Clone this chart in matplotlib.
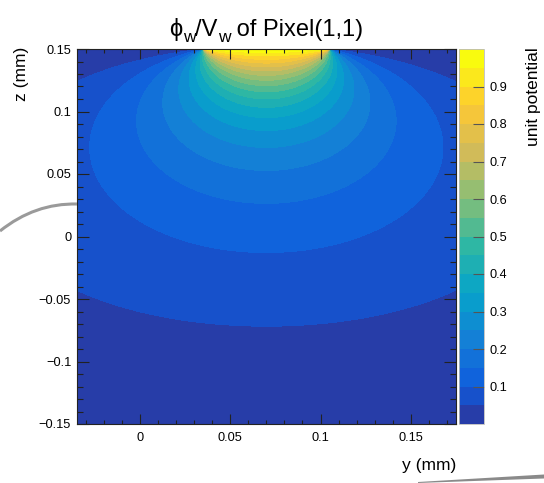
import numpy as np
import matplotlib
matplotlib.use("Agg")
import matplotlib.pyplot as plt
from matplotlib.colors import ListedColormap, BoundaryNorm
from matplotlib.ticker import FixedLocator, FixedFormatter, MultipleLocator
from matplotlib.patches import PathPatch, Polygon
from matplotlib.path import Path

plt.rcParams['font.family'] = ['Liberation Sans', 'DejaVu Sans']

# sensor geometry, mm
pixel_lo = 0.035
pixel_hi = 0.105
z_top = 0.15
z_bottom = -0.15
y_lim = [-0.035, 0.175]

# 20 contour bands between 0 and 1
levels = np.linspace(0, 1, 21)

x_ticks = [0, 0.05, 0.1, 0.15]
x_labels = ["0", "0.05", "0.1", "0.15"]
z_ticks = [-0.15, -0.1, -0.05, 0, 0.05, 0.1, 0.15]
z_labels = ["\u22120.15", "\u22120.1", "\u22120.05", "0", "0.05", "0.1", "0.15"]
cb_ticks = [0.1, 0.2, 0.3, 0.4, 0.5, 0.6, 0.7, 0.8, 0.9]
cb_labels = ["0.1", "0.2", "0.3", "0.4", "0.5", "0.6", "0.7", "0.8", "0.9"]

# ROOT kBird palette
bird_stops = [0.0, 0.125, 0.25, 0.375, 0.5, 0.625, 0.75, 0.875, 1.0]
bird_r = [0.2082, 0.0592, 0.0780, 0.0232, 0.1802, 0.5301, 0.8186, 0.9956, 0.9764]
bird_g = [0.1664, 0.3599, 0.5041, 0.6419, 0.7178, 0.7492, 0.7328, 0.7862, 0.9832]
bird_b = [0.5293, 0.8684, 0.8385, 0.7914, 0.6425, 0.4662, 0.3499, 0.1968, 0.0539]

pal = np.linspace(0, 1, 255)
pal_rgb = np.column_stack([np.interp(pal, bird_stops, bird_r),
                           np.interp(pal, bird_stops, bird_g),
                           np.interp(pal, bird_stops, bird_b)])
nband = len(levels) - 1
band_colors = [pal_rgb[int((i + 0.99) * 255 / nband)] for i in range(nband)]
cmap = ListedColormap(band_colors)
norm = BoundaryNorm(levels, cmap.N)

# weighting potential of a strip between two grounded planes
thick = z_top - z_bottom
yy, zz = np.meshgrid(np.linspace(y_lim[0], y_lim[1], 700),
                     np.linspace(z_bottom, z_top - 1e-5, 700))
t = np.tan(np.pi * (zz - z_bottom) / (2 * thick))
phi = (np.arctan(t * np.tanh(np.pi * (yy - pixel_lo) / (2 * thick)))
       - np.arctan(t * np.tanh(np.pi * (yy - pixel_hi) / (2 * thick)))) / np.pi
phi = np.clip(phi, 0, 0.9999)

fig = plt.figure(figsize=(5.44, 4.83), dpi=100)
W, H = 544.0, 483.0
ax = fig.add_axes([76.7 / W, 1 - 424 / H, (456 - 76.7) / W, 375 / H])
cax = fig.add_axes([459 / W, 1 - 424 / H, 25 / W, 375 / H])

cf = ax.contourf(yy, zz, phi, levels=levels, cmap=cmap, norm=norm)
ax.set_xlim(y_lim)
ax.set_ylim(z_bottom, z_top)

ax.xaxis.set_major_locator(FixedLocator(x_ticks))
ax.xaxis.set_major_formatter(FixedFormatter(x_labels))
ax.yaxis.set_major_locator(FixedLocator(z_ticks))
ax.yaxis.set_major_formatter(FixedFormatter(z_labels))
ax.xaxis.set_minor_locator(MultipleLocator(0.01))
ax.yaxis.set_minor_locator(MultipleLocator(0.01))
ax.tick_params(which='both', direction='in', top=True, right=True,
               color='#222222', width=0.8, labelsize=9.2)
ax.tick_params(axis='x', which='major', length=7, pad=6)
ax.tick_params(axis='x', which='minor', length=3)
ax.tick_params(axis='y', which='major', length=8.6, pad=4)
ax.tick_params(axis='y', which='minor', length=4.3)
for s in ax.spines.values():
    s.set_linewidth(0.8)
    s.set_color('#222222')

ax.set_xlabel("y (mm)", fontsize=12.5, loc='right')
ax.xaxis.set_label_coords(1.0, -0.09)

ax.set_ylabel("z (mm)", fontsize=12.5)
ax.yaxis.label.set(ha='right', va='bottom', rotation_mode='anchor')
ax.yaxis.set_label_coords(-0.127, 1.005)

cb = fig.colorbar(cf, cax=cax)
cb.outline.set_linewidth(0.6)
cb.outline.set_edgecolor('#bbbbbb')
cax.yaxis.set_major_locator(FixedLocator(cb_ticks))
cax.yaxis.set_major_formatter(FixedFormatter(cb_labels))
cax.yaxis.set_minor_locator(FixedLocator([]))
cax.tick_params(direction='in', length=8, width=0.8, color='#555555',
                labelsize=9.2, pad=4)
cb.set_label("unit potential", fontsize=12.5)
cax.yaxis.label.set(ha='right', rotation_mode='anchor')
cax.yaxis.set_label_coords(2.68, 1.005)

# title with dropped subscripts, pieces laid out left to right
title_parts = [("\u03d5", 17, 0), ("w", 12.5, -5.5), ("/V", 17, 0),
               ("w", 12.5, -5.5), (" of Pixel(1,1)", 17, 0)]
baseline = 36
renderer = fig.canvas.get_renderer()
texts = []
for s, fs, dy in title_parts:
    tx = fig.text(0, 1 - (baseline - dy) / H, s, fontsize=fs, va='baseline',
                  ha='left')
    texts.append(tx)
widths = [tx.get_window_extent(renderer).width for tx in texts]
x = (76.7 + 456) / 2 - sum(widths) / 2
for tx, w in zip(texts, widths):
    tx.set_x(x / W)
    x += w

# grey pointer strokes around the frame
arc = Path([(0 / W, 1 - 231 / H), (35 / W, 1 - 203 / H), (77 / W, 1 - 204 / H)],
           [Path.MOVETO, Path.CURVE3, Path.CURVE3])
fig.add_artist(PathPatch(arc, transform=fig.transFigure, fill=False,
                         edgecolor='#9a9a9a', linewidth=2.2))
fig.add_artist(Polygon([(418 / W, 1 - 482 / H), (544 / W, 1 - 474.5 / H),
                        (544 / W, 1 - 478.5 / H), (418 / W, 1 - 483 / H)],
                       closed=True, transform=fig.transFigure,
                       facecolor='#8a8a8a', edgecolor='none'))

fig.savefig("out.png", dpi=100)
